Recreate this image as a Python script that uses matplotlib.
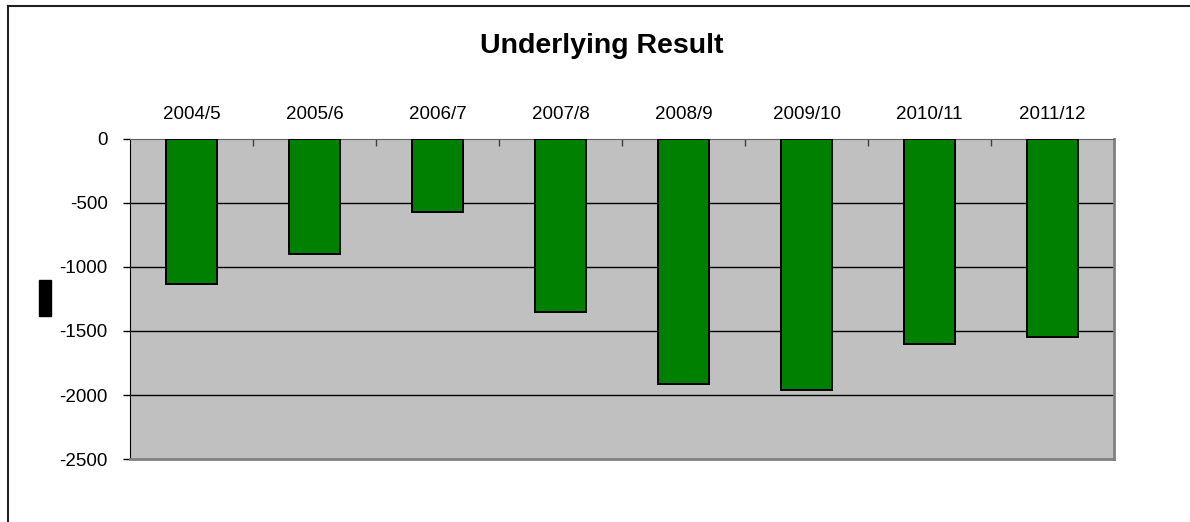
import matplotlib.pyplot as plt
from matplotlib.lines import Line2D
from matplotlib.patches import Rectangle

plt.rcParams['font.family'] = ['Liberation Sans', 'DejaVu Sans']

years = ['2004/5', '2005/6', '2006/7', '2007/8', '2008/9', '2009/10', '2010/11', '2011/12']
result = [-1130, -900, -575, -1350, -1910, -1960, -1600, -1550]
y_ticks = [0, -500, -1000, -1500, -2000, -2500]

W, H = 1190, 522
fig = plt.figure(figsize=(W / 100, H / 100), dpi=100)
ax = fig.add_axes([130 / W, 1 - 459.3 / H, 984 / W, 320.8 / H])
ax.set_facecolor('#c0c0c0')

x = list(range(len(years)))
ax.bar(x, result, width=0.41, color='#008000', edgecolor='black', linewidth=1.4, zorder=3)

ax.set_xlim(-0.5, len(years) - 0.5)
ax.set_ylim(-2500, 0)
ax.set_yticks(y_ticks)
ax.set_yticklabels([str(v) for v in y_ticks], fontsize=13.5)
ax.tick_params(axis='y', direction='out', length=5, width=1, pad=11)

# category labels sit above the zero line
ax.xaxis.tick_top()
ax.set_xticks(x)
ax.set_xticklabels(years, fontsize=13.5)
ax.set_xticks([i + 0.5 for i in x], minor=True)
ax.tick_params(axis='x', which='major', length=0, pad=11)
ax.tick_params(axis='x', which='minor', direction='in', length=5, width=1, color='#404040')

for v in y_ticks[1:-1]:
    ax.axhline(v, color='black', linewidth=1, zorder=1)

ax.spines['left'].set_color('black')
ax.spines['top'].set_color('#606060')
ax.spines['right'].set_color('#808080')
ax.spines['bottom'].set_color('#808080')
ax.spines['right'].set_linewidth(2)
ax.spines['bottom'].set_linewidth(2)

fig.text(602 / W, 1 - 46 / H, 'Underlying Result', fontsize=20.5, fontweight='bold',
         ha='center', va='center')

# outer frame (left and top edges only)
fig.add_artist(Line2D([8 / W, 8 / W], [0, 1 - 6 / H], color='#202020', linewidth=1.5))
fig.add_artist(Line2D([8 / W, 1], [1 - 6 / H, 1 - 6 / H], color='#202020', linewidth=1.5))

# y-axis title block
fig.add_artist(Rectangle((39 / W, 1 - 316 / H), 12 / W, 36 / H, color='black',
                         transform=fig.transFigure))

fig.savefig('out.png', dpi=100)
